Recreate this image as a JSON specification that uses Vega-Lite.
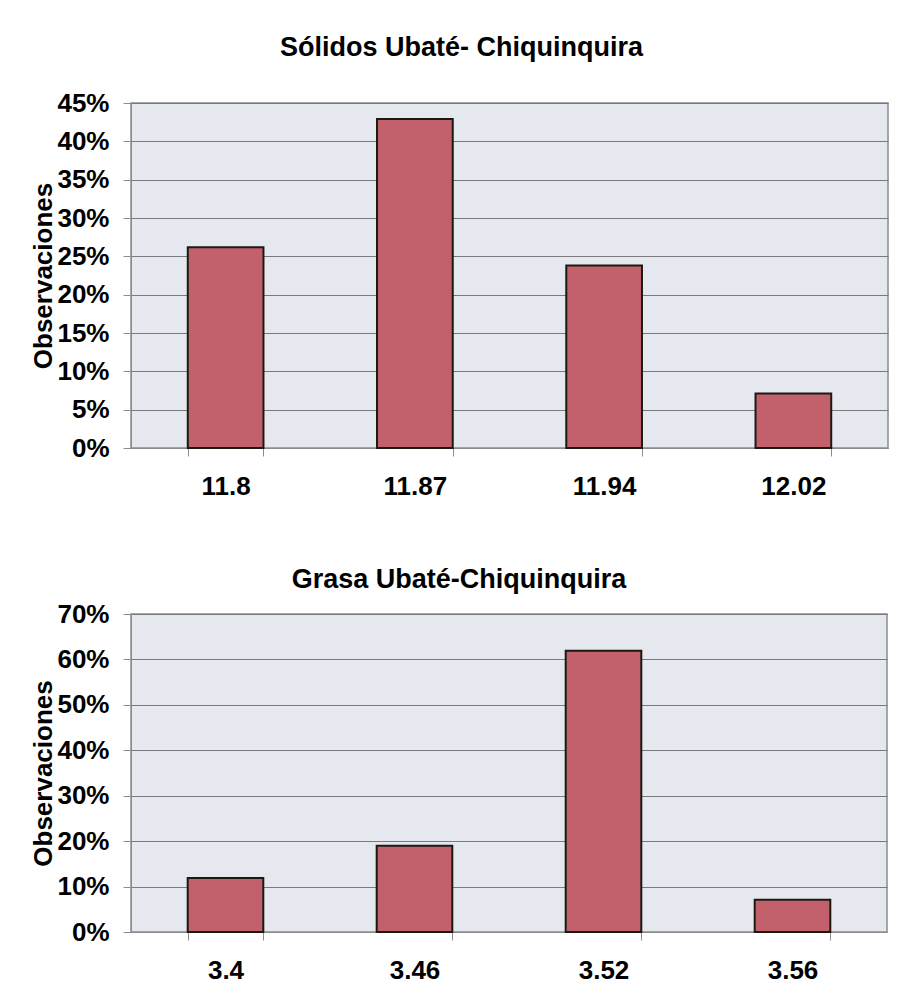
{
  "$schema": "https://vega.github.io/schema/vega-lite/v6.json",
  "background": "white",
  "padding": {"top": 33, "left": 30, "right": 10, "bottom": 10},
  "spacing": 65,
  "datasets": {
    "solidos": [
      {"valor": "11.8", "pct": 0.262},
      {"valor": "11.87", "pct": 0.429},
      {"valor": "11.94", "pct": 0.238},
      {"valor": "12.02", "pct": 0.071}
    ],
    "grasa": [
      {"valor": "3.4", "pct": 0.119},
      {"valor": "3.46", "pct": 0.19},
      {"valor": "3.52", "pct": 0.619},
      {"valor": "3.56", "pct": 0.071}
    ]
  },
  "config": {
    "font": "Liberation Sans",
    "view": {"fill": "#e6e8f0", "stroke": "#8c8c8c", "strokeWidth": 1.5},
    "axis": {
      "labelFont": "Liberation Sans",
      "labelFontSize": 26,
      "labelFontWeight": "bold",
      "labelColor": "black",
      "titleFont": "Liberation Sans",
      "titleFontSize": 26,
      "titleFontWeight": "bold",
      "titleColor": "black",
      "domainColor": "#8c8c8c",
      "tickColor": "#8c8c8c",
      "gridColor": "#7a7a7a",
      "gridWidth": 1.2,
      "tickSize": 8
    },
    "title": {"font": "Liberation Sans", "fontSize": 27, "fontWeight": "bold", "color": "black"}
  },
  "vconcat": [
    {
      "data": {"name": "solidos"},
      "width": 757,
      "height": 345,
      "title": {"text": "Sólidos Ubaté- Chiquinquira", "anchor": "middle", "dx": -48, "offset": 28},
      "mark": {"type": "bar", "color": "#c2616c", "stroke": "#1a1a10", "strokeWidth": 2},
      "encoding": {
        "x": {
          "field": "valor", "type": "nominal", "sort": null,
          "scale": {"paddingInner": 0.6, "paddingOuter": 0.3},
          "axis": {"title": null, "labelAngle": 0, "tickBand": "extent", "labelPadding": 17, "grid": false}
        },
        "y": {
          "field": "pct", "type": "quantitative",
          "scale": {"domain": [0, 0.45], "nice": false},
          "axis": {"title": "Observaciones", "format": ".0%", "values": [0, 0.05, 0.1, 0.15, 0.2, 0.25, 0.3, 0.35, 0.4, 0.45], "labelPadding": 14, "titlePadding": 0}
        }
      }
    },
    {
      "data": {"name": "grasa"},
      "width": 756,
      "height": 318,
      "title": {"text": "Grasa Ubaté-Chiquinquira", "anchor": "middle", "dx": -50, "offset": 7},
      "mark": {"type": "bar", "color": "#c2616c", "stroke": "#1a1a10", "strokeWidth": 2},
      "encoding": {
        "x": {
          "field": "valor", "type": "nominal", "sort": null,
          "scale": {"paddingInner": 0.6, "paddingOuter": 0.3},
          "axis": {"title": null, "labelAngle": 0, "tickBand": "extent", "labelPadding": 17, "grid": false}
        },
        "y": {
          "field": "pct", "type": "quantitative",
          "scale": {"domain": [0, 0.7], "nice": false},
          "axis": {"title": "Observaciones", "format": ".0%", "values": [0, 0.1, 0.2, 0.3, 0.4, 0.5, 0.6, 0.7], "labelPadding": 14, "titlePadding": 0}
        }
      }
    }
  ]
}
